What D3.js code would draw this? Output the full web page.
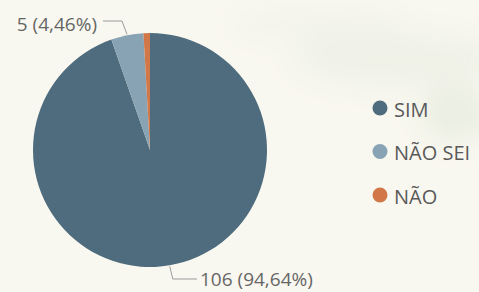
<!DOCTYPE html>
<html>
<head>
<meta charset="utf-8">
<script src="https://cdn.jsdelivr.net/npm/d3@7"></script>
<style>
  body { margin: 0; background: #f9f8f0; }
  svg { display: block; font-family: "Open Sans", "Noto Sans", sans-serif; }
</style>
</head>
<body>
<div class="pie-chart"></div>
<script>
// data
const categories = ['SIM', 'NÃO SEI', 'NÃO'];
const counts = [106, 5, 1];
const pctLabels = ['94,64%', '4,46%', '0,89%'];
const colors = ['#4e6c7e', '#88a4b4', '#d27848'];

const svg_width = 479;
const svg_height = 292;
const cx = 150, cy = 150, radius = 117;

const svg = d3.select('.pie-chart').append('svg')
    .attr('width', svg_width).attr('height', svg_height);

// faint background texture
const defs = svg.append('defs');
defs.append('filter').attr('id', 'blur')
    .append('feGaussianBlur').attr('stdDeviation', 14);
const bg = svg.append('g').attr('filter', 'url(#blur)');
bg.append('rect').attr('width', svg_width).attr('height', svg_height).attr('fill', '#f9f8f0');
bg.append('ellipse').attr('cx', 400).attr('cy', 60).attr('rx', 110).attr('ry', 30)
    .attr('fill', '#eef0e6').attr('opacity', 0.8);
bg.append('ellipse').attr('cx', 455).attr('cy', 115).attr('rx', 35).attr('ry', 28)
    .attr('fill', '#e6ebdf').attr('opacity', 0.8);
bg.append('ellipse').attr('cx', 320).attr('cy', 25).attr('rx', 90).attr('ry', 16)
    .attr('fill', '#f0f1ea').attr('opacity', 0.8);

const data = categories.map((c, i) => ({ name: c, value: counts[i], pct: pctLabels[i], color: colors[i] }));

const pie = d3.pie().sort(null).value(d => d.value);
const arc = d3.arc().innerRadius(0).outerRadius(radius);
const arcs = pie(data);

const chartG = svg.append('g').attr('transform', `translate(${cx},${cy})`);
chartG.selectAll('.slice').data(arcs).enter()
    .append('path').attr('class', 'slice')
    .attr('d', arc)
    .attr('fill', d => d.data.color);

// data labels (SIM and NÃO SEI)
const lineColor = '#9a9a9a';
const textColor = '#666';

// SIM label: bottom right
{
  const a = arcs[0];
  const mid = (a.startAngle + a.endAngle) / 2;
  const p0 = [Math.sin(mid) * (radius + 1), -Math.cos(mid) * (radius + 1)];
  const p1 = [p0[0] + 3, 129];
  const p2 = [47, 129];
  chartG.append('polyline')
      .attr('points', [p0, p1, p2].map(p => p.join(',')).join(' '))
      .attr('fill', 'none').attr('stroke', lineColor).attr('stroke-width', 1);
  chartG.append('text').attr('x', 50).attr('y', 129)
      .attr('dominant-baseline', 'central')
      .style('font-size', '19px').style('fill', textColor)
      .text(`${a.data.value} (${a.data.pct})`);
}

// NÃO SEI label: top left
{
  const a = arcs[1];
  const mid = (a.startAngle + a.endAngle) / 2;
  const p0 = [Math.sin(mid) * (radius + 1), -Math.cos(mid) * (radius + 1)];
  const p1 = [p0[0] - 5, -129];
  const p2 = [-47, -129];
  chartG.append('polyline')
      .attr('points', [p0, p1, p2].map(p => p.join(',')).join(' '))
      .attr('fill', 'none').attr('stroke', lineColor).attr('stroke-width', 1);
  chartG.append('text').attr('x', -53).attr('y', -126)
      .attr('text-anchor', 'end').attr('dominant-baseline', 'central')
      .style('font-size', '19px').style('fill', textColor)
      .text(`${a.data.value} (${a.data.pct})`);
}

// legend
const legendY = d3.scalePoint().domain(categories).range([108, 195]);
const legend = svg.append('g').attr('class', 'legend');
const item = legend.selectAll('.item').data(data).enter()
    .append('g').attr('class', 'item')
    .attr('transform', d => `translate(380,${legendY(d.name)})`);
item.append('circle').attr('r', 7.5).attr('fill', d => d.color);
item.append('text').attr('x', 14).attr('y', 1)
    .attr('dominant-baseline', 'central')
    .style('font-size', '20px').style('fill', '#595959')
    .text(d => d.name);
</script>
</body>
</html>
